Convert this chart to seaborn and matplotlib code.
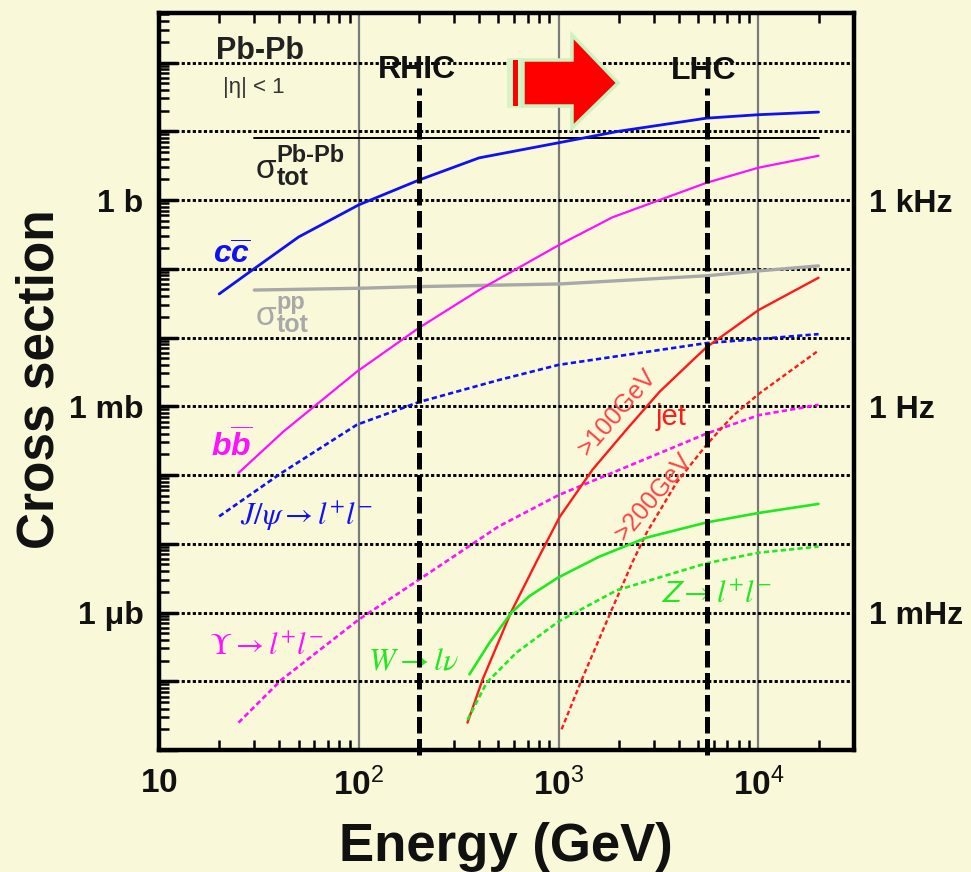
import matplotlib
matplotlib.use("Agg")
import matplotlib.pyplot as plt
import matplotlib.ticker as mticker
from matplotlib.patches import Polygon, Rectangle
import seaborn as sns

# ---- values: energy in GeV, cross section in barn ----
cc_E = [20, 28, 50, 100, 200, 400, 1000, 2000, 5500, 10000, 20000]
cc_sig = [0.043, 0.087, 0.29, 0.85, 1.95, 4.1, 6.8, 10.0, 15.5, 17.4, 19.0]

bb_E = [25, 42, 98, 200, 400, 1000, 1860, 5500, 10000, 20000]
bb_sig = [1.07e-4, 4.3e-4, 3.2e-3, 1.38e-2, 4.9e-2, 0.22, 0.56, 1.78, 2.95, 4.4]

jpsi_E = [20, 41, 98, 200, 500, 1000, 5500, 10000, 20000]
jpsi_sig = [2.5e-5, 1.07e-4, 5.4e-4, 1.15e-3, 2.4e-3, 4.0e-3, 8.3e-3, 9.5e-3, 1.12e-2]

ups_E = [25, 41, 100, 200, 500, 1000, 5500, 10000, 20000]
ups_sig = [2.5e-8, 1.05e-7, 7.9e-7, 3.0e-6, 1.78e-5, 5.1e-5, 4.0e-4, 7.4e-4, 1.05e-3]

jet100_E = [350, 416, 579, 785, 1012, 1480, 2190, 3200, 4700, 5500, 10000, 20000]
jet100_sig = [2.5e-8, 1.05e-7, 1.02e-6, 5.9e-6, 2.45e-5, 1.2e-4, 4.6e-4, 1.62e-3,
              4.7e-3, 7.2e-3, 2.5e-2, 7.4e-2]

jet200_E = [1035, 1300, 1800, 2350, 2760, 3900, 5500, 7400, 10000, 19600]
jet200_sig = [2.0e-8, 1.02e-7, 9.3e-7, 5.5e-6, 1.45e-5, 7.8e-5, 2.75e-4, 7.1e-4, 1.5e-3, 6.2e-3]

W_E = [358, 450, 581, 716, 990, 1600, 2760, 5500, 10000, 20000]
W_sig = [1.26e-7, 3.6e-7, 1.0e-6, 1.74e-6, 3.2e-6, 6.5e-6, 1.23e-5, 2.04e-5, 2.8e-5, 3.8e-5]

Z_E = [350, 436, 614, 1000, 1950, 5500, 10000, 20000]
Z_sig = [2.75e-8, 9.5e-8, 2.6e-7, 7.4e-7, 2.1e-6, 5.2e-6, 7.4e-6, 9.1e-6]

pp_tot_E = [30, 100, 200, 1000, 5500, 10000, 20000]
pp_tot_sig = [0.049, 0.052, 0.055, 0.060, 0.079, 0.093, 0.11]

pbpb_tot_E = [30, 20000]
pbpb_tot_sig = [7.9, 7.9]

collider_names = ["RHIC", "LHC"]
collider_E = [200, 5500]
collider_top = 42.0   # barn, where the dashed collider markers start

x_ticks = [10, 100, 1000, 10000]
x_ticklabels = [r"$\mathbf{10}$", r"$\mathbf{10}^{2}$", r"$\mathbf{10}^{3}$", r"$\mathbf{10}^{4}$"]
y_ticks = [1.0, 1e-3, 1e-6]
y_ticklabels = ["1 b", "1 mb", "1 \u03bcb"]
rate_ticklabels = ["1 kHz", "1 Hz", "1 mHz"]

BG = "#F9F9DA"
INK = "#111111"
BLUE, MAGENTA, RED, GREEN, GREY = "#1010F5", "#FF10FF", "#FF1A1A", "#22E822", "#A8A8A8"
DASH = (0, (2.0, 1.2))

sns.set_theme(style="ticks")
plt.rcParams["font.family"] = ["Liberation Sans", "DejaVu Sans"]
plt.rcParams.update({
    "text.color": "black",
    "axes.labelcolor": "black",
    "xtick.color": "black",
    "ytick.color": "black",
    "mathtext.fontset": "custom",
    "mathtext.rm": "Liberation Sans",
    "mathtext.it": "Liberation Sans:italic:bold",
    "mathtext.bf": "Liberation Sans:bold",
    "mathtext.sf": "Liberation Sans",
})

W_PX, H_PX = 971, 872
AX_L, AX_R, AX_T, AX_B = 159, 854, 13, 750

fig = plt.figure(figsize=(W_PX / 100, H_PX / 100), dpi=100, facecolor=BG)
ax = fig.add_axes([AX_L / W_PX, 1 - AX_B / H_PX, (AX_R - AX_L) / W_PX, (AX_B - AX_T) / H_PX])
ax.set_facecolor(BG)
ax.set_xscale("log")
ax.set_yscale("log")


def px(x, y):
    """pixel position in the 971x872 picture -> axes fraction"""
    return (x - AX_L) / (AX_R - AX_L), (AX_B - y) / (AX_B - AX_T)


# ---- curves ----
curves = [
    (pbpb_tot_E, pbpb_tot_sig, "black", "-", 1.4),
    (pp_tot_E, pp_tot_sig, GREY, "-", 2.4),
    (cc_E, cc_sig, BLUE, "-", 2.0),
    (bb_E, bb_sig, MAGENTA, "-", 1.6),
    (jpsi_E, jpsi_sig, BLUE, DASH, 1.9),
    (ups_E, ups_sig, MAGENTA, DASH, 1.9),
    (jet100_E, jet100_sig, RED, "-", 1.7),
    (jet200_E, jet200_sig, RED, DASH, 1.7),
    (W_E, W_sig, GREEN, "-", 1.9),
    (Z_E, Z_sig, GREEN, DASH, 1.9),
]
for E, sig, col, ls, lw in curves:
    sns.lineplot(x=E, y=sig, ax=ax, color=col, linestyle=ls, linewidth=lw, zorder=3)

ax.vlines(collider_E, 10 ** -8.07, collider_top, colors="black", linestyles=(0, (3.3, 1.1)),
          linewidth=3.6, zorder=4, clip_on=False)

ax.set_xlim(10, 30100)
ax.set_ylim(1e-8, 10 ** 2.72)

# ---- axes, ticks, grid ----
ax.xaxis.set_major_locator(mticker.FixedLocator(x_ticks))
ax.xaxis.set_major_formatter(mticker.FixedFormatter(x_ticklabels))
ax.xaxis.set_minor_locator(mticker.LogLocator(base=10, subs=range(2, 10), numticks=20))
ax.xaxis.set_minor_formatter(mticker.NullFormatter())
ax.yaxis.set_major_locator(mticker.LogLocator(base=10, numticks=20))
ylab = dict(zip(y_ticks, y_ticklabels))
ax.yaxis.set_major_formatter(mticker.FuncFormatter(
    lambda v, pos: next((t for k, t in ylab.items() if abs(v / k - 1) < 1e-6), "")))
ax.yaxis.set_minor_locator(mticker.LogLocator(base=10, subs=range(2, 10), numticks=20))
ax.yaxis.set_minor_formatter(mticker.NullFormatter())

ax.tick_params(axis="x", which="major", length=0, pad=13, labelsize=24, labelcolor=INK)
ax.tick_params(axis="y", which="major", direction="in", length=14, width=2.5,
               left=True, right=True, pad=11, labelsize=23, labelcolor=INK)
ax.tick_params(which="minor", direction="in", length=7, width=1.8,
               top=True, bottom=True, left=True, right=True, color="black")
for lbl in ax.get_yticklabels():
    lbl.set_fontweight("bold")

ax.grid(False)
ax.grid(axis="y", which="major", color="black", linestyle=(0, (1.1, 0.8)), linewidth=2.1, zorder=1)
ax.grid(axis="x", which="major", color="#7a7a7a", linestyle="-", linewidth=1.6, zorder=1)
for s in ax.spines.values():
    s.set_linewidth(3.2)
    s.set_color("black")
ax.set_xlabel("")
ax.set_ylabel("")

# right-hand rate scale
ax2 = ax.twinx()
ax2.set_yscale("log")
ax2.set_ylim(ax.get_ylim())
ax2.set_yticks(y_ticks)
ax2.set_yticklabels(rate_ticklabels, fontweight="bold")
ax2.yaxis.set_minor_locator(mticker.NullLocator())
ax2.tick_params(axis="y", length=0, pad=11, labelsize=23, labelcolor=INK)
ax2.grid(False)
for s in ax2.spines.values():
    s.set_visible(False)

# axis titles
fig.text(40 / W_PX, 1 - 379 / H_PX, "Cross section", rotation=90, ha="center", va="center",
         fontsize=37, fontweight="bold", color=INK)
fig.text(506 / W_PX, 1 - 861 / H_PX, "Energy (GeV)", ha="center", va="baseline",
         fontsize=38, fontweight="bold", color=INK)

# ---- annotations ----
def label(x, y, s, **kw):
    kw.setdefault("transform", ax.transAxes)
    return ax.text(*px(x, y), s, **kw)


label(260, 51, "Pb-Pb", ha="center", va="center", fontsize=22, fontweight="bold", color="#222222")
label(254, 87, "|\u03b7| < 1", ha="center", va="center", fontsize=16, color="#333333")
label(417, 70, "RHIC", ha="center", va="center", fontsize=23, fontweight="bold", color=INK)
label(704, 71, "LHC", ha="center", va="center", fontsize=23, fontweight="bold", color=INK)


def sigma_tot(x, y, sup, col):
    label(x, y, "\u03c3", ha="left", va="baseline", fontsize=24, color=col)
    label(x + 20, y - 16, sup, ha="left", va="baseline", fontsize=17, fontweight="bold", color=col)
    label(x + 21, y + 7, "tot", ha="left", va="baseline", fontsize=18, fontweight="bold", color=col)


sigma_tot(256, 178, "Pb-Pb", "#222222")
sigma_tot(256, 325, "pp", GREY)

label(213, 256, r"$c\overline{c}$", ha="left", va="center", fontsize=23, color=BLUE)
label(211, 446, r"$b\overline{b}$", ha="left", va="center", fontsize=23, color=MAGENTA)
label(240, 516, r"$J/\psi\rightarrow l^{+}l^{-}$", ha="left", va="center", fontsize=22,
      color=BLUE, math_fontfamily="stix")
label(209, 647, r"$\Upsilon\rightarrow l^{+}l^{-}$", ha="left", va="center", fontsize=22,
      color=MAGENTA, math_fontfamily="stix")
label(368, 662, r"$W\rightarrow l\nu$", ha="left", va="center", fontsize=23,
      color=GREEN, math_fontfamily="stix")
label(660, 595, r"$\mathsf{Z}\rightarrow l^{+}l^{-}$", ha="left", va="center", fontsize=22,
      color=GREEN, math_fontfamily="stix")
label(671, 417, "jet", ha="center", va="center", fontsize=21, color=RED)
label(617, 412, ">100GeV", ha="center", va="center", fontsize=18, color="#FF4444",
      rotation=49, rotation_mode="anchor")
label(654, 497, ">200GeV", ha="center", va="center", fontsize=18, color="#FF4444",
      rotation=50, rotation_mode="anchor")

# the red "RHIC -> LHC" arrow
arrow_pts = [(523, 60), (572, 60), (572, 35), (618, 83), (572, 128), (572, 106), (523, 106)]
ax.add_patch(Rectangle(px(507, 108), (523 - 507) / (AX_R - AX_L), (108 - 58) / (AX_B - AX_T),
                       transform=ax.transAxes, facecolor="#D6F5C6", edgecolor="none", zorder=5))
ax.add_patch(Rectangle(px(513, 106), (518 - 513) / (AX_R - AX_L), (106 - 60) / (AX_B - AX_T),
                       transform=ax.transAxes, facecolor="#FF0000", edgecolor="none", zorder=6))
ax.add_patch(Polygon([px(x, y) for x, y in arrow_pts], closed=True, transform=ax.transAxes,
                     facecolor="#FF0000", edgecolor="#CCF2C0", linewidth=2.5, zorder=6))

fig.savefig("out.png", dpi=100, facecolor=BG)
